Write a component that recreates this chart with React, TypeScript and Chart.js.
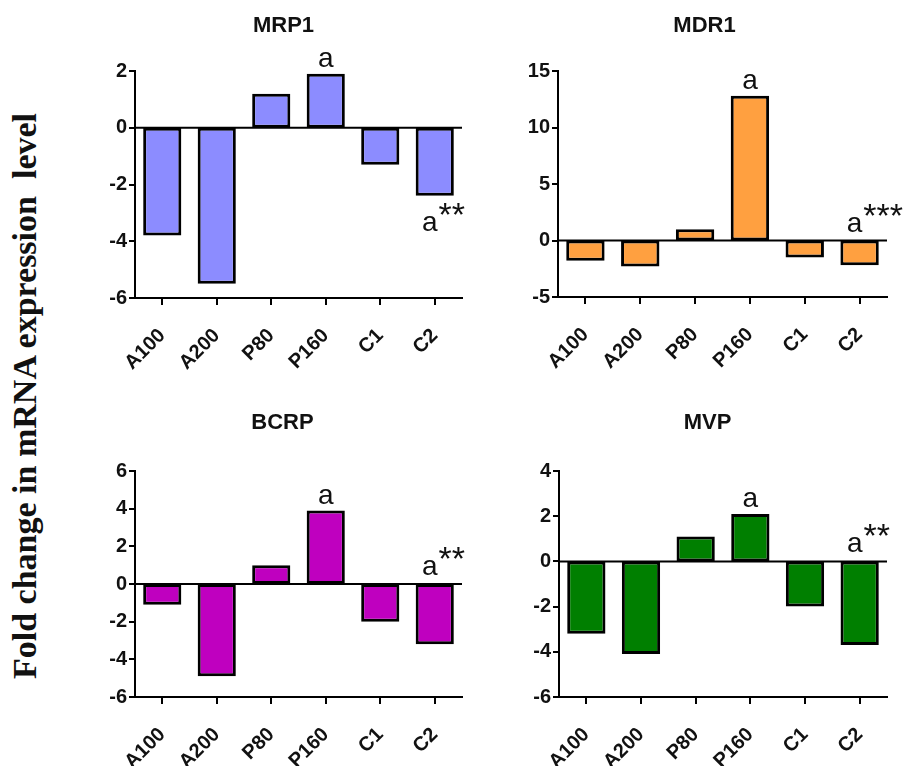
import React, { useEffect, useRef } from 'react';
import { Chart, registerables } from 'chart.js';

Chart.register(...registerables);

const CATEGORIES = ['A100', 'A200', 'P80', 'P160', 'C1', 'C2'];

const MRP1_VALUES = [-3.8, -5.5, 1.2, 1.9, -1.3, -2.4];
const MDR1_VALUES = [-1.8, -2.3, 1.0, 12.8, -1.5, -2.2];
const BCRP_VALUES = [-1.1, -4.9, 1.0, 3.9, -2.0, -3.2];
const MVP_VALUES = [-3.2, -4.1, 1.1, 2.1, -2.0, -3.7];

const MRP1_MARKS = ['', '', '', 'a', '', 'a**'];
const MDR1_MARKS = ['', '', '', 'a', '', 'a***'];
const BCRP_MARKS = ['', '', '', 'a', '', 'a**'];
const MVP_MARKS = ['', '', '', 'a', '', 'a**'];

const MRP1_TICKS = [-6, -4, -2, 0, 2];
const MDR1_TICKS = [-5, 0, 5, 10, 15];
const BCRP_TICKS = [-6, -4, -2, 0, 2, 4, 6];
const MVP_TICKS = [-6, -4, -2, 0, 2, 4];

const Y_LABEL = 'Fold change in mRNA expression  level';

const SANS = '"Liberation Sans", Arial, Helvetica, sans-serif';
const SERIF = '"Liberation Serif", "Times New Roman", serif';

type PanelCfg = {
  title: string;
  values: number[];
  marks: string[];
  ticks: number[];
  color: string;
  marksBelowNegative: boolean;
  box: { left: number; top: number; width: number; height: number };
  padLeft: number;
  padRight: number;
  yAxisWidth: number;
  titleCenter: number;
  chartTop: number;
  chartBottom: number;
};

const PANELS: PanelCfg[] = [
  {
    title: 'MRP1', values: MRP1_VALUES, marks: MRP1_MARKS, ticks: MRP1_TICKS, color: '#8c8cff',
    marksBelowNegative: true,
    box: { left: 95, top: 0, width: 380, height: 380 },
    padLeft: 10, padRight: 13, yAxisWidth: 30, titleCenter: 26, chartTop: 71, chartBottom: 298,
  },
  {
    title: 'MDR1', values: MDR1_VALUES, marks: MDR1_MARKS, ticks: MDR1_TICKS, color: '#ffa040',
    marksBelowNegative: false,
    box: { left: 512, top: 0, width: 392, height: 380 },
    padLeft: 10, padRight: 17, yAxisWidth: 36, titleCenter: 26, chartTop: 71, chartBottom: 297,
  },
  {
    title: 'BCRP', values: BCRP_VALUES, marks: BCRP_MARKS, ticks: BCRP_TICKS, color: '#bf00bf',
    marksBelowNegative: false,
    box: { left: 93, top: 380, width: 382, height: 386 },
    padLeft: 10, padRight: 13, yAxisWidth: 32, titleCenter: 423, chartTop: 471, chartBottom: 697,
  },
  {
    title: 'MVP', values: MVP_VALUES, marks: MVP_MARKS, ticks: MVP_TICKS, color: '#007f00',
    marksBelowNegative: false,
    box: { left: 518, top: 380, width: 386, height: 386 },
    padLeft: 10, padRight: 17, yAxisWidth: 31, titleCenter: 423, chartTop: 471, chartBottom: 697,
  },
];

function Panel({ cfg }: { cfg: PanelCfg }) {
  const ref = useRef<HTMLCanvasElement>(null);
  useEffect(() => {
    const canvas = ref.current;
    if (!canvas) return;
    const titleSize = 22;
    const titleLH = 1.2;
    const tCenter = cfg.titleCenter - cfg.box.top;
    const cTop = cfg.chartTop - cfg.box.top;
    const cBottom = cfg.chartBottom - cfg.box.top;
    const padTop = tCenter - (titleSize * titleLH) / 2;
    const padBottom = cTop - padTop - titleSize * titleLH;

    const zeroLinePlugin = {
      id: 'zeroLine',
      beforeDatasetsDraw(chart: any) {
        const ctx = chart.ctx;
        const ys = chart.scales.y;
        const a = chart.chartArea;
        const y0 = ys.getPixelForValue(0);
        ctx.save();
        ctx.strokeStyle = '#000';
        ctx.lineWidth = 2;
        ctx.beginPath();
        ctx.moveTo(a.left, y0);
        ctx.lineTo(a.right, y0);
        ctx.stroke();
        ctx.restore();
      },
    };

    const marksPlugin = {
      id: 'marks',
      afterDatasetsDraw(chart: any) {
        const ctx = chart.ctx;
        const xs = chart.scales.x;
        const ys = chart.scales.y;
        ctx.save();
        ctx.fillStyle = '#111';
        ctx.textBaseline = 'alphabetic';
        cfg.marks.forEach((m, i) => {
          if (!m) return;
          const letter = m.replace(/\*+$/, '');
          const stars = m.slice(letter.length);
          const v = cfg.values[i];
          const cx = xs.getPixelForValue(i);
          let base: number;
          if (v >= 0) base = ys.getPixelForValue(v) - 7;
          else if (cfg.marksBelowNegative) base = ys.getPixelForValue(v) + 35;
          else base = ys.getPixelForValue(0) - 9;
          ctx.font = `28px ${SANS}`;
          const ax = stars ? cx - 5 : cx;
          ctx.textAlign = 'center';
          ctx.fillText(letter, ax, base);
          if (stars) {
            const w = ctx.measureText(letter).width;
            ctx.font = `34px ${SANS}`;
            ctx.textAlign = 'left';
            ctx.fillText(stars, ax + w / 2 + 1, base - 5);
          }
        });
        ctx.restore();
      },
    };

    const ticks = cfg.ticks;
    const chart = new Chart(canvas, {
      type: 'bar',
      data: {
        labels: CATEGORIES,
        datasets: [
          {
            data: cfg.values,
            backgroundColor: cfg.color,
            borderColor: '#000',
            borderWidth: 3,
            borderSkipped: false,
            inflateAmount: 0,
            barPercentage: 0.7,
            categoryPercentage: 1,
          } as any,
        ],
      },
      options: {
        animation: false,
        responsive: false,
        maintainAspectRatio: false,
        events: [],
        layout: { padding: { left: cfg.padLeft, right: cfg.padRight, top: 0, bottom: 0 } },
        plugins: {
          legend: { display: false },
          tooltip: { enabled: false },
          title: {
            display: true,
            text: cfg.title,
            color: '#111',
            font: { family: SANS, size: titleSize, weight: 'bold', lineHeight: titleLH },
            padding: { top: padTop, bottom: padBottom },
          },
        },
        scales: {
          x: {
            type: 'category',
            offset: true,
            grid: {
              offset: false,
              drawOnChartArea: false,
              drawTicks: true,
              tickLength: 7,
              tickColor: '#000',
              lineWidth: 2,
            },
            border: { display: true, color: '#000', width: 2 },
            ticks: {
              color: '#111',
              font: { family: SANS, size: 20, weight: 'bold' },
              minRotation: 45,
              maxRotation: 45,
              autoSkip: false,
              padding: 19,
            },
            afterFit: (s: any) => {
              s.height = cfg.box.height - cBottom;
            },
          },
          y: {
            min: ticks[0],
            max: ticks[ticks.length - 1],
            grid: {
              drawOnChartArea: false,
              tickColor: '#000',
              lineWidth: (c: any) => (c.tick && c.tick.value === 0 ? 0 : 2),
              tickWidth: 2,
              drawTicks: true,
              tickLength: 6,
            },
            border: { display: true, color: '#000', width: 2 },
            ticks: {
              stepSize: ticks[1] - ticks[0],
              color: '#111',
              font: { family: SANS, size: 20, weight: 'bold' },
              padding: 2,
            },
            afterFit: (s: any) => {
              s.width = cfg.yAxisWidth;
            },
          },
        },
      } as any,
      plugins: [zeroLinePlugin, marksPlugin],
    });
    return () => chart.destroy();
  }, [cfg]);
  return (
    <canvas
      ref={ref}
      width={cfg.box.width}
      height={cfg.box.height}
      style={{
        position: 'absolute',
        left: cfg.box.left,
        top: cfg.box.top,
        width: cfg.box.width,
        height: cfg.box.height,
      }}
    />
  );
}

export default function App() {
  return (
    <div
      style={{
        position: 'absolute',
        left: 0,
        top: 0,
        width: 904,
        height: 766,
        overflow: 'hidden',
        background: '#fff',
      }}
    >
      <div
        style={{
          position: 'absolute',
          left: 25,
          top: 396,
          transform: 'translate(-50%, -50%) rotate(-90deg)',
          whiteSpace: 'pre',
          font: `bold 34px ${SERIF}`,
          lineHeight: 1,
          color: '#111',
        }}
      >
        {Y_LABEL}
      </div>
      {PANELS.map((p) => (
        <Panel key={p.title} cfg={p} />
      ))}
    </div>
  );
}
